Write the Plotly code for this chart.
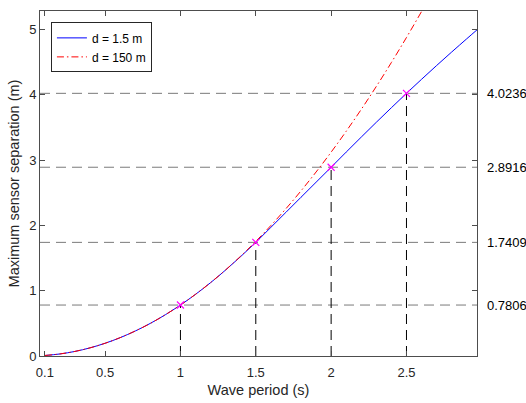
import plotly.graph_objects as go

# Wave period samples (s)
period = [0.1, 0.2, 0.3, 0.4, 0.5, 0.6, 0.7, 0.8, 0.9, 1.0, 1.1, 1.2, 1.3, 1.4,
          1.5, 1.6, 1.7, 1.8, 1.9, 2.0, 2.1, 2.2, 2.3, 2.4, 2.5, 2.6, 2.7, 2.8,
          2.9, 2.968]

# Maximum sensor separation (m) at depth d = 1.5 m
sep_shallow = [0.0078, 0.0312, 0.0703, 0.1249, 0.1952, 0.2810, 0.3825, 0.4996,
               0.6322, 0.7806, 0.9441, 1.1236, 1.3175, 1.5240, 1.7409, 1.9704,
               2.2009, 2.4314, 2.6616, 2.8916, 3.1236, 3.3536, 3.5806, 3.8036,
               4.0236, 4.2386, 4.4496, 4.6566, 4.8596, 4.9966]

# Maximum sensor separation (m) at depth d = 150 m
period_deep = [0.1, 0.2, 0.3, 0.4, 0.5, 0.6, 0.7, 0.8, 0.9, 1.0, 1.1, 1.2, 1.3,
               1.4, 1.5, 1.6, 1.7, 1.8, 1.9, 2.0, 2.1, 2.2, 2.3, 2.4, 2.5, 2.6,
               2.7]
sep_deep = [0.0078, 0.0312, 0.0703, 0.1249, 0.1952, 0.2811, 0.3825, 0.4996,
            0.6324, 0.7807, 0.9446, 1.1242, 1.3194, 1.5302, 1.7566, 1.9986,
            2.2562, 2.5295, 2.8183, 3.1228, 3.4429, 3.7786, 4.1299, 4.4968,
            4.8794, 5.2775, 5.6913]

# Highlighted periods and their separations (d = 1.5 m)
mark_period = [1.0, 1.5, 2.0, 2.5]
mark_sep = [0.7806, 1.7409, 2.8916, 4.0236]
mark_labels = ["0.7806", "1.7409", "2.8916", "4.0236"]

x_ticks = [0.1, 0.5, 1, 1.5, 2, 2.5]
x_tick_text = ["0.1", "0.5", "1", "1.5", "2", "2.5"]
y_ticks = [0, 1, 2, 3, 4, 5]

X_RANGE = [0.068, 2.968]
Y_RANGE = [0, 5.285]

FONT = "Liberation Sans, Arial, sans-serif"
AX_COLOR = "#4d4d4d"
TXT_COLOR = "#262626"

fig = go.Figure()

# Guide lines: horizontal (grey) across the axes and vertical (black) down to the axis
shapes = []
for xp, yp in zip(mark_period, mark_sep):
    shapes.append(dict(type="line", xref="x", yref="y", x0=X_RANGE[0], x1=X_RANGE[1],
                       y0=yp, y1=yp, line=dict(color="#7a7a7a", width=1, dash="10px,6px"),
                       layer="below"))
    shapes.append(dict(type="line", xref="x", yref="y", x0=xp, x1=xp,
                       y0=0, y1=yp, line=dict(color="black", width=1, dash="10px,6px"),
                       layer="below"))

fig.add_trace(go.Scatter(x=period, y=sep_shallow, mode="lines", name="d = 1.5 m",
                         line=dict(color="#0000ff", width=1, shape="spline")))
fig.add_trace(go.Scatter(x=period_deep, y=sep_deep, mode="lines", name="d = 150 m",
                         line=dict(color="#ff0000", width=1, shape="spline",
                                   dash="7px,3px,1.5px,3px")))
fig.add_trace(go.Scatter(x=mark_period, y=mark_sep, mode="markers", showlegend=False,
                         marker=dict(symbol="x-thin", size=7, color="#ff00ff",
                                     line=dict(color="#ff00ff", width=1.2))))

annotations = []
for yp, lab in zip(mark_sep, mark_labels):
    annotations.append(dict(x=1.018, xref="paper", y=yp, yref="y", text=lab,
                            showarrow=False, xanchor="left", yanchor="middle",
                            font=dict(family=FONT, size=13, color="black")))

fig.update_layout(
    width=526, height=403,
    margin=dict(l=40, r=49, t=11, b=47, autoexpand=False),
    paper_bgcolor="white", plot_bgcolor="white",
    font=dict(family=FONT, size=13, color=TXT_COLOR),
    shapes=shapes, annotations=annotations,
    legend=dict(x=0.025, y=0.967, xanchor="left", yanchor="top",
                bgcolor="white", bordercolor="#262626", borderwidth=1,
                font=dict(family=FONT, size=12, color="black"),
                tracegroupgap=0, itemwidth=30),
)

fig.update_xaxes(range=X_RANGE, tickvals=x_ticks, ticktext=x_tick_text,
                 showgrid=False, zeroline=False, showline=True, linecolor=AX_COLOR,
                 linewidth=1, mirror="ticks", ticks="inside", ticklen=5,
                 tickcolor=AX_COLOR, ticklabelstandoff=4, automargin=False,
                 title=dict(text="Wave period (s)", font=dict(size=14.5, color=TXT_COLOR),
                            standoff=6))
fig.update_yaxes(range=Y_RANGE, tickvals=y_ticks,
                 showgrid=False, zeroline=False, showline=True, linecolor=AX_COLOR,
                 linewidth=1, mirror="ticks", ticks="inside", ticklen=5,
                 tickcolor=AX_COLOR, automargin=False,
                 title=dict(text="Maximum sensor separation (m)",
                            font=dict(size=14.5, color=TXT_COLOR), standoff=6))

fig.write_html("out.html")
